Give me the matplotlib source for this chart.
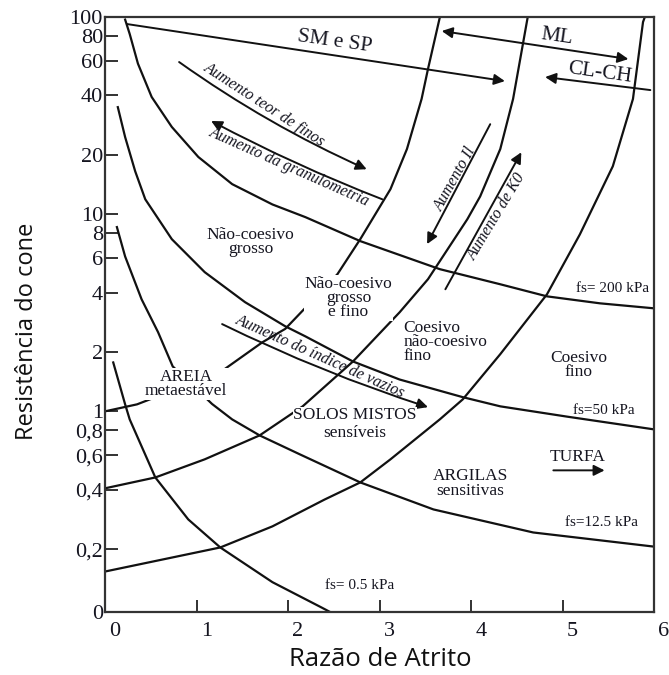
import matplotlib
matplotlib.use("Agg")
import matplotlib.pyplot as plt
from matplotlib.transforms import ScaledTranslation

# ---------------- data (x = Razão de Atrito, y = Resistência do cone) ----------------
fs200_x = [0.22, 0.27, 0.36, 0.51, 0.73, 1.02, 1.39, 1.83, 2.19, 2.79, 3.66, 4.32, 4.83, 5.41, 6.0]
fs200_y = [97, 82, 58, 39.3, 27.7, 19.5, 14.2, 11.2, 9.66, 7.30, 5.26, 4.41, 3.83, 3.53, 3.33]

fs50_x = [0.14, 0.22, 0.33, 0.44, 0.73, 1.09, 1.53, 1.97, 2.19, 2.71, 3.22, 3.91, 4.32, 5.05, 6.0]
fs50_y = [34.9, 24.6, 16.5, 11.9, 7.47, 5.08, 3.58, 2.70, 2.40, 1.79, 1.45, 1.18, 1.06, 0.94, 0.81]

fs12_x = [0.13, 0.22, 0.40, 0.58, 0.74, 1.17, 1.39, 1.69, 2.13, 2.79, 3.59, 4.68, 6.0]
fs12_y = [8.6, 6.1, 3.7, 2.52, 1.69, 1.09, 0.91, 0.755, 0.605, 0.436, 0.318, 0.243, 0.206]

fs05_x = [0.09, 0.22, 0.27, 0.55, 0.91, 1.26, 1.83, 2.37, 2.46]
fs05_y = [1.77, 1.085, 0.91, 0.462, 0.283, 0.204, 0.136, 0.101, 0.096]

bndE_x = [0.0, 0.35, 1.26, 1.72, 1.97, 2.19, 2.54, 2.79, 3.12, 3.30, 3.46, 3.53, 3.66]
bndE_y = [1.0, 1.085, 1.58, 2.24, 2.62, 3.35, 4.96, 7.47, 13.4, 21.4, 38.4, 54.5, 100]

bndF_x = [0.0, 0.55, 1.09, 1.69, 2.16, 2.71, 3.22, 3.53, 3.96, 4.10, 4.32, 4.46, 4.62]
bndF_y = [0.407, 0.462, 0.571, 0.755, 1.06, 1.79, 3.18, 4.68, 9.43, 12.3, 21.4, 38.4, 100]

bndG_x = [0.0, 1.26, 1.83, 2.40, 2.79, 3.12, 3.66, 3.91, 4.32, 4.83, 5.19, 5.55, 5.77, 5.88, 5.90]
bndG_y = [0.154, 0.204, 0.261, 0.357, 0.436, 0.571, 0.911, 1.15, 1.95, 3.92, 7.9, 17.5, 38.4, 94.3, 100]

# arrows: (start_x, start_y, end_x, end_y)
arr_smsp = (0.24, 92.1, 4.37, 47.3)
arr_finos = (0.81, 59.1, 2.86, 16.9)
arr_granulo = (3.03, 11.9, 1.16, 29.7)
arr_il = (4.21, 28.6, 3.52, 7.05)
arr_k0 = (3.72, 4.16, 4.55, 20.6)
arr_ml = (3.68, 84.9, 5.72, 61.2)
arr_clch = (5.96, 42.6, 4.81, 49.6)
arr_vazios = (1.28, 2.77, 3.53, 1.05)
arr_turfa = (4.90, 0.502, 5.46, 0.502)

xtick_vals = [0, 1, 2, 3, 4, 5, 6]
xtick_labels = ["0", "1", "2", "3", "4", "5", "6"]
ytick_vals = [0.096, 0.2, 0.4, 0.6, 0.8, 1, 2, 4, 6, 8, 10, 20, 40, 60, 80, 100]
ytick_labels = ["0", "0,2", "0,4", "0,6", "0,8", "1", "2", "4", "6", "8", "10", "20", "40", "60", "80", "100"]

# ---------------- figure ----------------
W, H = 669, 675
fig = plt.figure(figsize=(W / 100, H / 100), dpi=100)
ax = fig.add_axes([105 / W, 1 - 612 / H, (654 - 105) / W, (612 - 17) / H])
ax.set_yscale("log")
ax.set_xlim(0, 6)
ax.set_ylim(0.096, 100)

serif = ["Liberation Serif", "DejaVu Serif"]
lw = 1.6
for xs, ys in [(fs200_x, fs200_y), (fs50_x, fs50_y), (fs12_x, fs12_y), (fs05_x, fs05_y),
               (bndE_x, bndE_y), (bndF_x, bndF_y), (bndG_x, bndG_y)]:
    ax.plot(xs, ys, color="#111111", lw=lw, zorder=2, solid_joinstyle="round")


def arrow(a, style="-|>", rad=0.0):
    x0, y0, x1, y1 = a
    ax.annotate("", xy=(x1, y1), xytext=(x0, y0),
                arrowprops=dict(arrowstyle=style, color="#111111", lw=1.4,
                                mutation_scale=16, shrinkA=0, shrinkB=0,
                                connectionstyle=f"arc3,rad={rad}"),
                zorder=3)


arrow(arr_smsp)
arrow(arr_finos, rad=0.05)
arrow(arr_granulo, rad=-0.03)
arrow(arr_il)
arrow(arr_k0)
arrow(arr_ml, style="<|-|>")
arrow(arr_clch)
arrow(arr_vazios, rad=0.036)
arrow(arr_turfa)

tc = "#151520"


def txt(x, y, s, size=12.5, rot=0, style="normal", box=False, ha="center", ls=0.85, pad=0.6):
    kw = {}
    if box:
        kw["bbox"] = dict(facecolor="white", edgecolor="none", pad=pad)
    ax.text(x, y, s, fontsize=size, rotation=rot, fontstyle=style, ha=ha, va="center",
            family=serif, color=tc, rotation_mode="anchor", linespacing=ls,
            multialignment=ha if ha != "center" else "center", zorder=5, **kw)


txt(2.51, 74.7, "SM e SP", size=15.5, rot=-8)
txt(4.94, 79.1, "ML", size=15.5, rot=-8)
txt(5.41, 52.0, "CL-CH", size=15.5, rot=-8)
txt(1.74, 35.8, "Aumento teor de finos", size=11.5, rot=-33, style="italic")
txt(2.02, 17.3, "Aumento da granulometria", size=11.5, rot=-24, style="italic")
txt(3.83, 15.1, "Aumento Il", size=11.5, rot=61, style="italic")
txt(4.28, 9.66, "Aumento de K0", size=11.5, rot=59, style="italic")
txt(2.35, 1.90, "Aumento do índice de vazios", size=11.5, rot=-24, style="italic")
txt(1.59, 7.21, "Não-coesivo\ngrosso")
txt(2.66, 3.75, "Não-coesivo\ngrosso\ne fino", box=True)
txt(3.26, 2.24, "Coesivo\nnão-coesivo\nfino", ha="left")
txt(5.18, 1.71, "Coesivo\nfino")
txt(0.885, 1.37, "AREIA\nmetaestável", box=True)
txt(2.73, 0.954, "SOLOS MISTOS", box=True, pad=0.0)
txt(2.73, 0.773, "sensíveis")
txt(3.99, 0.431, "ARGILAS\nsensitivas")
txt(5.17, 0.584, "TURFA")
txt(5.55, 4.21, "fs= 200 kPa", size=11)
txt(5.45, 1.01, "fs=50 kPa", size=11)
txt(5.43, 0.273, "fs=12.5 kPa", size=11)
txt(2.78, 0.131, "fs= 0.5 kPa", size=11)

# ---------------- axes styling ----------------
ax.minorticks_off()
ax.set_xticks(xtick_vals)
ax.set_xticklabels(xtick_labels, family=serif, fontsize=16, color=tc)
ax.set_yticks(ytick_vals)
ax.set_yticklabels(ytick_labels, family=serif, fontsize=16, color=tc)
ax.tick_params(axis="both", direction="in", length=9, width=1.3, color="#222222")
ax.tick_params(axis="y", pad=1.5)
ax.tick_params(axis="x", pad=7)
off = ScaledTranslation(10 / 100, 0, fig.dpi_scale_trans)
for lab in ax.get_xticklabels():
    lab.set_transform(lab.get_transform() + off)
for sp in ax.spines.values():
    sp.set_linewidth(1.6)
    sp.set_color("#333333")

fig.text(27 / W, 1 - 331 / H, "Resistência do cone", rotation=90, ha="center", va="center",
         fontsize=17, family=["Open Sans", "DejaVu Sans"], color="#111111")
fig.text(380 / W, 1 - 660 / H, "Razão de Atrito", ha="center", va="center",
         fontsize=18.5, family=["Open Sans", "DejaVu Sans"], color="#111111")

fig.savefig("out.png", dpi=100, facecolor="white")
